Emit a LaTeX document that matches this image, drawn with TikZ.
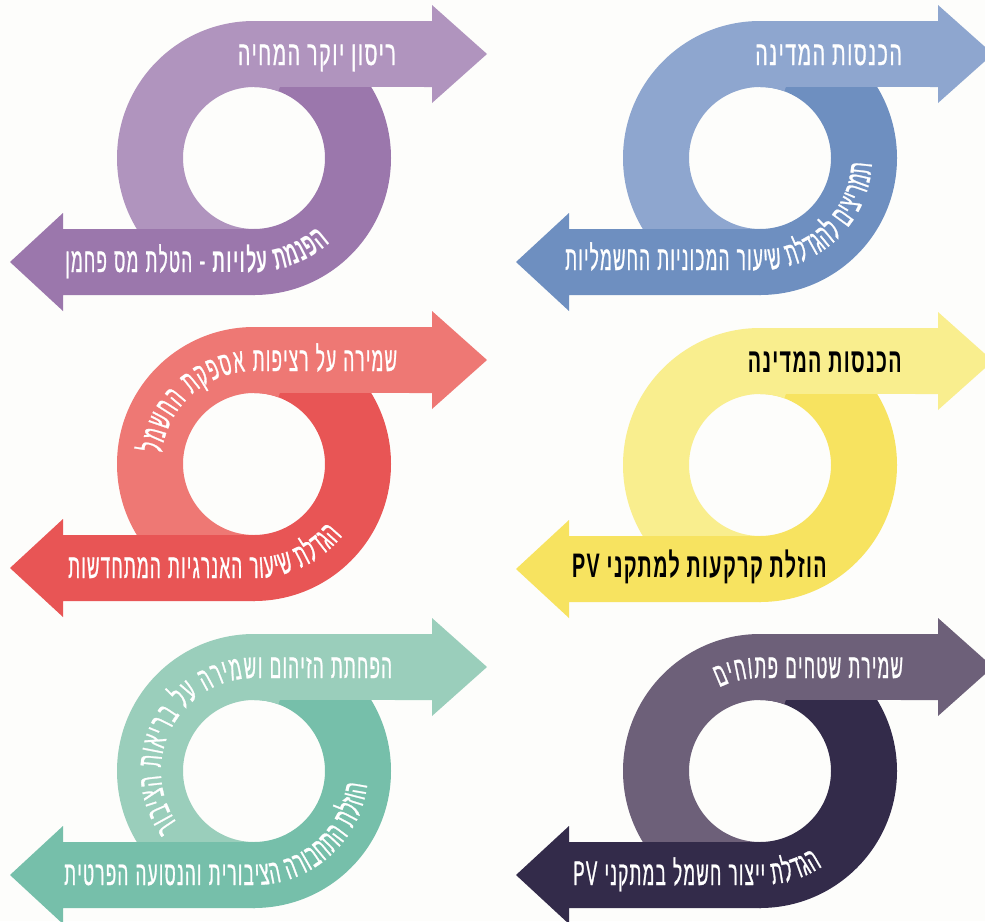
\documentclass[tikz,border=0pt]{standalone}
\usepackage{fontspec}
\usetikzlibrary{decorations.text}
\TeXXeTstate=1
\newfontfamily\hebfont[Script=Hebrew,FakeStretch=0.57,FakeBold=0.8,LetterSpace=5]{Liberation Sans}
\newfontfamily\hebboldfont[Script=Hebrew,FakeStretch=0.58,LetterSpace=4]{Liberation Sans Bold}
\newfontfamily\hebcurvefont[Script=Hebrew,FakeStretch=0.5,FakeBold=0.8]{Liberation Sans}
\newfontfamily\hebcurveboldfont[Script=Hebrew,FakeStretch=0.52]{Liberation Sans Bold}
\newcommand{\hebtxt}{\hebfont\fontsize{34}{38}\selectfont}
\newcommand{\hebbtxt}{\hebboldfont\fontsize{34}{38}\selectfont}
% along a path every letter gets a little room of its own
\newcommand{\hebctxt}{\hebcurvefont\fontsize{34}{38}\selectfont\kern1.3pt}
\newcommand{\hebcbtxt}{\hebcurveboldfont\fontsize{34}{38}\selectfont\kern1.3pt}

\definecolor{purpleL}{HTML}{B094BE}
\definecolor{purpleD}{HTML}{9B77AC}
\definecolor{blueL}{HTML}{8EA6CF}
\definecolor{blueD}{HTML}{6E8FC0}
\definecolor{redL}{HTML}{EE7874}
\definecolor{redD}{HTML}{E85555}
\definecolor{yellowL}{HTML}{F9EE8E}
\definecolor{yellowD}{HTML}{F7E360}
\definecolor{tealL}{HTML}{9ACEBB}
\definecolor{tealD}{HTML}{76BFAA}
\definecolor{slateL}{HTML}{6D6079}
\definecolor{slateD}{HTML}{332B4A}
\definecolor{paper}{HTML}{FDFDFB}

% swirl: #1 light colour, #2 dark colour (drawn round the scope origin)
\newcommand{\swirl}[2]{%
\fill[#2] (0,137) arc (90:-90:137) -- (0,-71) arc (-90:90:71) -- cycle;
\fill[#1] (0,137) -- (178,137) -- (178,153) -- (233,104) -- (178,55) -- (178,71)
  -- (70:75.6) -- (70:71) arc (70:270:71) -- (0,-137) arc (270:90:137) -- cycle;
\fill[#2] (1,-71) -- (-191,-71) -- (-191,-55) -- (-244,-104) -- (-191,-153)
  -- (-191,-137) -- (1,-137) -- cycle;
}

\tikzset{
  lbl/.style={font=\hebtxt, text=white, inner sep=0pt},
  uptext/.style={decorate, decoration={text along path, text align=right, text color=white}},
  lowtext/.style={decorate, decoration={text along path, text align=left, text color=white}}
}

\begin{document}
\begin{tikzpicture}[x=1pt,y=1pt]
\clip (0,0) rectangle (985,-921);
\fill[paper] (0,0) rectangle (985,-921);

\coordinate (TL) at (254,-158);
\coordinate (TR) at (760,-158);
\coordinate (ML) at (254,-464);
\coordinate (MR) at (760,-465);
\coordinate (BL) at (254,-771);
\coordinate (BR) at (760,-771);

% purple
\begin{scope}[shift={(TL)}]
\swirl{purpleL}{purpleD}
\node[lbl, anchor=base east] (tl-up) at (142,93) {\beginR ריסון יוקר המחיה\endR};
\path[lowtext, decoration={text={|\hebctxt|ןמחפ סמ תלטה - |\hebcbtxt|תויולע תמנפה}}]
  (-190,-114) -- (0,-114) arc (-90:80:114);
\end{scope}

% blue
\begin{scope}[shift={(TR)}]
\swirl{blueL}{blueD}
\node[lbl, anchor=base east] (tr-up) at (142,93) {\beginR הכנסות המדינה\endR};
\path[lowtext, decoration={text={|\hebctxt|תוילמשחה תוינוכמה רועיש תלדגהל םיצירמת}}]
  (-196,-112) -- (0,-112) arc (-90:80:112);
\end{scope}

% red
\begin{scope}[shift={(ML)}]
\swirl{redL}{redD}
\path[uptext, decoration={text={|\hebctxt|למשחה תקפסא תופיצר לע הרימש}}]
  (260:93) arc (260:90:93) -- (143,93);
\path[lowtext, decoration={text={|\hebctxt|תושדחתמה תויגרנאה רועיש תלדגה}}]
  (-187,-114) -- (0,-114) arc (-90:80:114);
\end{scope}

% yellow
\begin{scope}[shift={(MR)}]
\swirl{yellowL}{yellowD}
\node[lbl, text=black, font=\hebbtxt, anchor=base east] (mr-up) at (142,93) {\beginR הכנסות המדינה\endR};
\node[lbl, text=black, font=\hebbtxt, anchor=base west] (mr-low) at (-188,-112) {\beginR הוזלת קרקעות למתקני \beginL PV\endL\endR};
\end{scope}

% teal
\begin{scope}[shift={(BL)}]
\swirl{tealL}{tealD}
\path[uptext, decoration={text={|\hebctxt|רוביצה תואירב לע הרימשו םוהיזה תתחפה}}]
  (265:93) arc (265:90:93) -- (138,93);
\path[lowtext, decoration={text={|\hebctxt|תיטרפה העוסנהו תירוביצה הרובחתה תלזוה}}]
  (-191,-114) -- (0,-114) arc (-90:80:114);
\end{scope}

% slate
\begin{scope}[shift={(BR)}]
\swirl{slateL}{slateD}
\path[uptext, decoration={text={|\hebctxt|םיחותפ םיחטש תרימש}}]
  (260:93) arc (260:90:93) -- (143,93);
\path[lowtext, decoration={text={|\hebctxt|PV ינקתמב למשח רוציי תלדגה}}]
  (-188,-114) -- (0,-114) arc (-90:80:114);
\end{scope}

\end{tikzpicture}
\end{document}
